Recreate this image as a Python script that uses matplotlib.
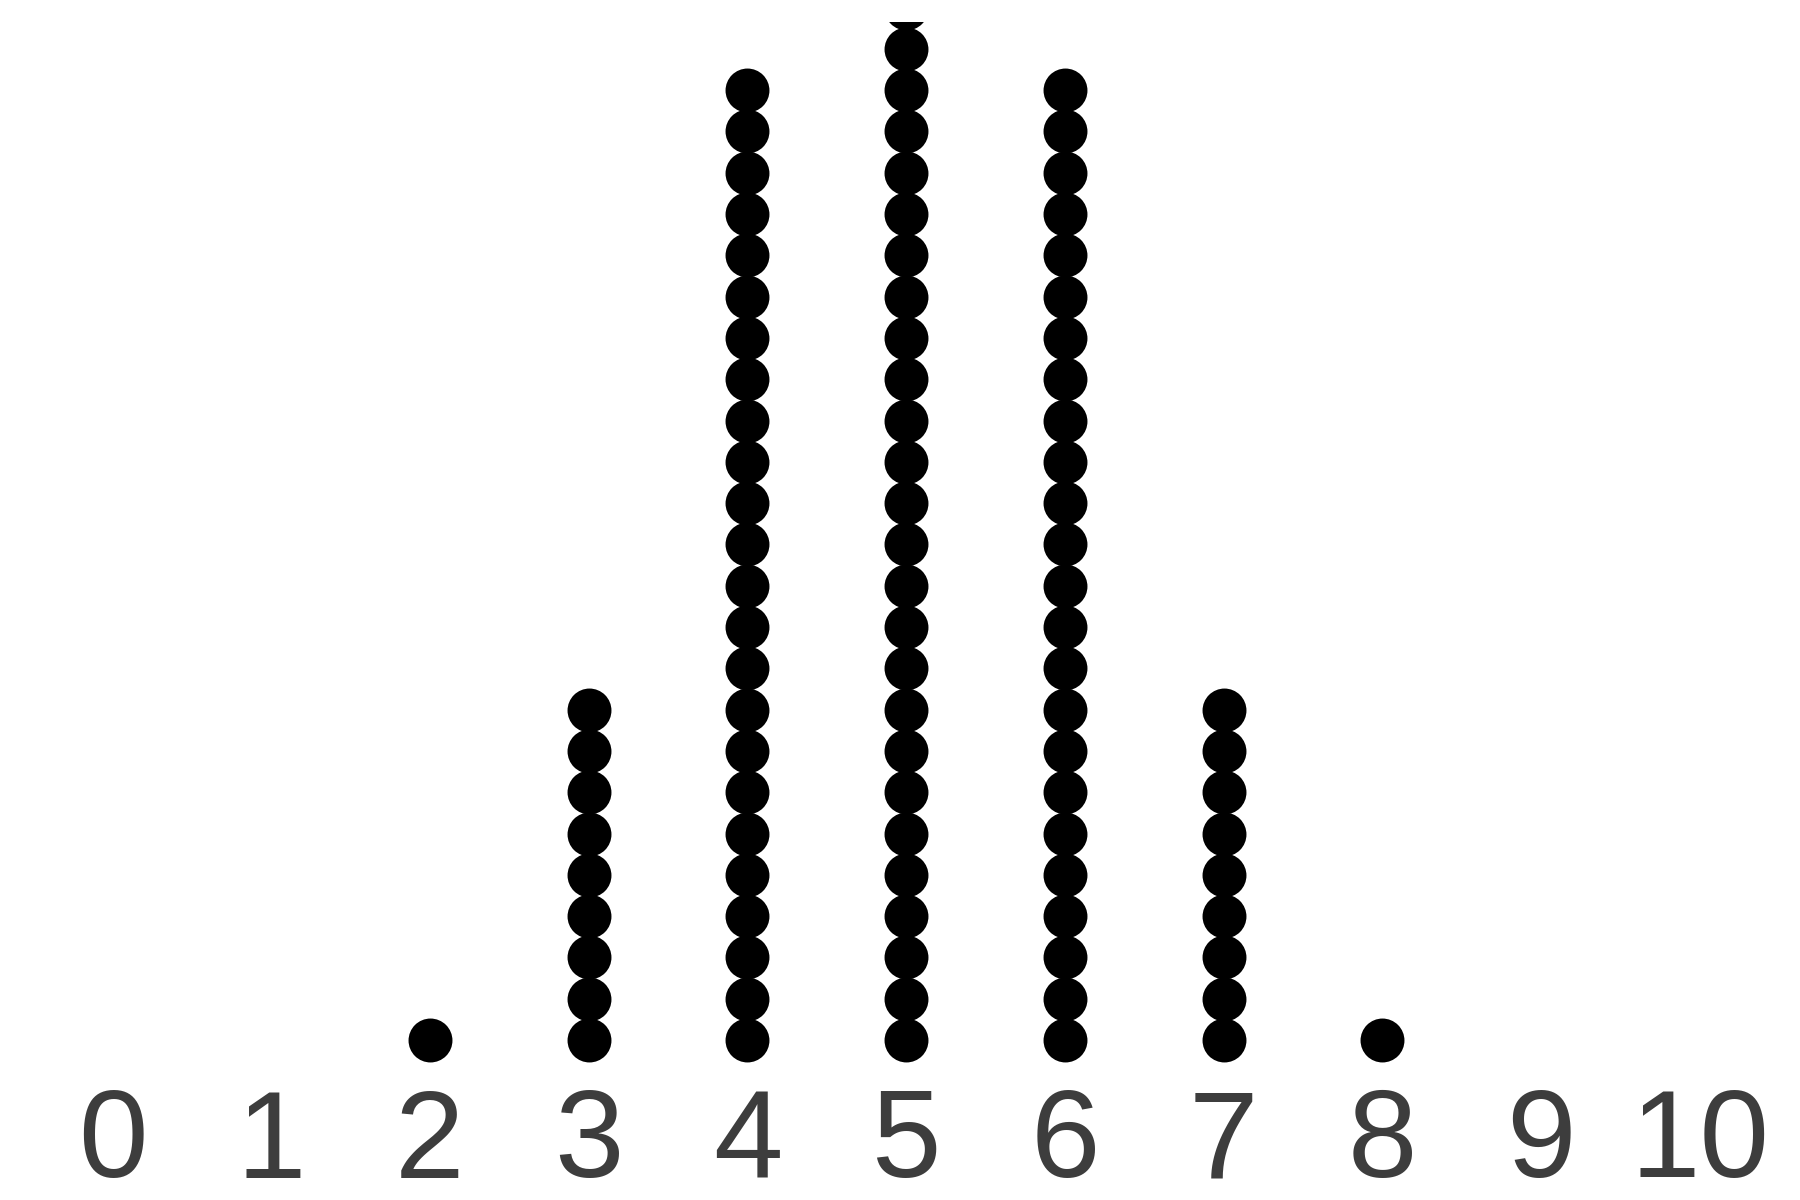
import matplotlib
matplotlib.use('Agg')
import matplotlib.pyplot as plt
import numpy as np

# dot plot: value -> how many dots stacked
values = [2, 3, 4, 5, 6, 7, 8]
counts = [1, 9, 24, 26, 24, 9, 1]
tick_labels = [str(i) for i in range(11)]

W, H = 1800, 1200
fig = plt.figure(figsize=(18, 12), dpi=100)

# panel in pixel terms (from top): top 22, bottom 1075
top_px, bot_px = 22, 1075
ax = fig.add_axes([0, 1 - bot_px / H, 1, (bot_px - top_px) / H])

xs = []
ys = []
for v, c in zip(values, counts):
    xs += [v] * c
    ys += list(np.arange(c))

ax.scatter(xs, ys, s=1000, c='black', linewidths=0)

unit_x = (1700 - 112.5) / 10
ax.set_xlim(-112.5 / unit_x, 10 + 100 / unit_x)
step = 41.3
ax.set_ylim(-(bot_px - 1040) / step, (1040 - top_px) / step)

ax.set_xticks(range(11))
ax.set_xticklabels(tick_labels, fontsize=90, color='#3d3d3d',
                   family=['Liberation Sans', 'DejaVu Sans'])
ax.tick_params(axis='x', length=0, pad=9)
ax.set_yticks([])
for sp in ax.spines.values():
    sp.set_visible(False)

fig.savefig('out.png', dpi=100)
